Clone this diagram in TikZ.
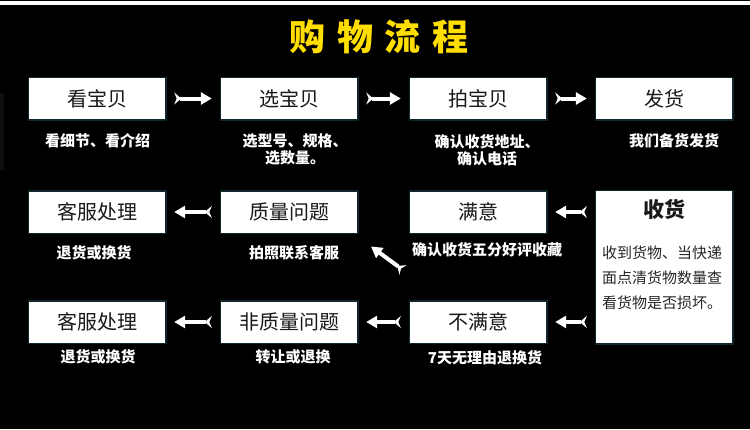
\documentclass[tikz,border=0pt]{standalone}
\usepackage{fontspec}
\setmainfont{Noto Sans CJK SC}
\usetikzlibrary{arrows.meta}
\definecolor{titleyellow}{RGB}{255,222,0}
\definecolor{glow}{RGB}{16,38,44}

\begin{document}
\begin{tikzpicture}[x=1pt,y=1pt]
\tikzstyle{every node}+=[inner sep=0pt]
\tikzstyle{stepbox}=[fill=white, text=black!90, minimum width=136pt, minimum height=41pt, font=\fontsize{20}{24}\selectfont, preaction={draw=glow, line width=3pt}]
\tikzstyle{note}=[text=white, font=\bfseries\fontsize{15}{17}\selectfont, align=center]
\tikzstyle{flow}=[white, line width=4pt, {Stealth[reversed,length=7pt,width=12pt,inset=2.5pt]}-{Triangle[length=11pt,width=12pt]}, shorten <=9pt, shorten >=9pt]
\fill [black] (0,0) rectangle (750,-429);
\fill [white] (0,-1) rectangle (750,-4.5);
\fill [black!94!white] (0,-93) rectangle (4,-170);
\node [text=titleyellow, font=\bfseries\fontsize{36}{40}\selectfont\addfontfeature{LetterSpace=33}] (title) at (379,-36.5) {购物流程};
\node [stepbox] (look) at (97,-98.5) {看宝贝};
\node [stepbox] (pick) at (289,-98.5) {选宝贝};
\node [stepbox] (buy) at (478,-98.5) {拍宝贝};
\node [stepbox] (ship) at (664,-98.5) {发货};
\node [note] (lookn) at (97.5,-141) {看细节、看介绍};
\node [note] (pickn) at (295,-149.5) {选型号、规格、\\选数量。};
\node [note] (buyn) at (487,-150) {确认收货地址、\\确认电话};
\node [note] (shipn) at (674,-141) {我们备货发货};
\draw [flow] (look) -- (pick);
\draw [flow] (pick) -- (buy);
\draw [flow] (buy) -- (ship);
\node [stepbox, minimum height=152pt] (recv) at (664,-267) {};
\node [text=black!90, font=\bfseries\fontsize{21}{24}\selectfont] (recvt) at (664,-209) {收货};
\node [anchor=west, align=left, text=black!85, font=\fontsize{15}{25}\selectfont] (recvn) at (602,-278) {收到货物、当快递\\面点清货物数量查\\看货物是否损坏。};
\node [stepbox] (happy) at (478,-212) {满意};
\node [stepbox] (qual) at (289,-212) {质量问题};
\node [stepbox] (svca) at (97,-212) {客服处理};
\node [note] (happyn) at (487,-250) {确认收货五分好评收藏};
\node [note] (qualn) at (294,-253) {拍照联系客服};
\node [note] (svcan) at (94,-253) {退货或换货};
\node [stepbox] (unhappy) at (478,-322) {不满意};
\node [stepbox] (nonqual) at (289,-322) {非质量问题};
\node [stepbox] (svcb) at (97,-322) {客服处理};
\node [note] (unhappyn) at (485,-358) {7天无理由退换货};
\node [note] (nonqualn) at (293,-357) {转让或退换};
\node [note] (svcbn) at (98,-357) {退货或换货};
\draw [flow] (recv.west |- happy.east) -- (happy);
\draw [flow] (qual) -- (svca);
\draw [flow] (recv.west |- unhappy.east) -- (unhappy);
\draw [flow] (unhappy) -- (nonqual);
\draw [flow] (nonqual) -- (svcb);
\coordinate (upfrom) at (403,-270);
\coordinate (upto) at (371,-246.5);
\draw [flow, shorten <=0pt, shorten >=0pt] (upfrom) -- (upto);
\end{tikzpicture}
\end{document}
